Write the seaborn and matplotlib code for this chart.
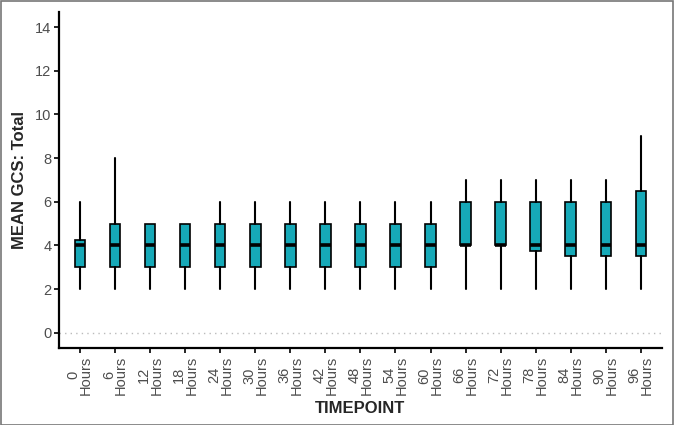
import numpy as np
import matplotlib
matplotlib.use("Agg")
from matplotlib import pyplot as plt
from matplotlib.patches import Rectangle
import seaborn as sns

sns.set_style('white')
plt.rcParams['font.family'] = ['Liberation Sans', 'DejaVu Sans']

# box stats
timepoints = [0, 6, 12, 18, 24, 30, 36, 42, 48, 54, 60, 66, 72, 78, 84, 90, 96]
whislo = [2, 2, 2, 2, 2, 2, 2, 2, 2, 2, 2, 2, 2, 2, 2, 2, 2]
q1 = [3, 3, 3, 3, 3, 3, 3, 3, 3, 3, 3, 4, 4, 3.75, 3.5, 3.5, 3.5]
med = [4, 4, 4, 4, 4, 4, 4, 4, 4, 4, 4, 4, 4, 4, 4, 4, 4]
q3 = [4.25, 5, 5, 5, 5, 5, 5, 5, 5, 5, 5, 6, 6, 6, 6, 6, 6.5]
whishi = [6, 8, 5, 5, 6, 6, 6, 6, 6, 6, 6, 7, 7, 7, 7, 7, 9]
tick_labels = [f"{t}\nHours" for t in timepoints]

stats = [dict(whislo=a, q1=b, med=c, q3=d, whishi=e, fliers=[])
         for a, b, c, d, e in zip(whislo, q1, med, q3, whishi)]

fig = plt.figure(figsize=(6.74, 4.25), dpi=100)
ax = fig.add_axes([0.0875, 0.181, 0.8945, 0.791])

ax.bxp(stats, positions=np.arange(len(stats)), widths=0.3, showcaps=False,
       patch_artist=True,
       boxprops=dict(facecolor='#16a9b8', edgecolor='black', linewidth=1.2),
       whiskerprops=dict(color='black', linewidth=1.5),
       medianprops=dict(color='black', linewidth=2.6))

ax.axhline(0, color='#bbbbbb', linestyle=(0, (1, 3)), linewidth=1, zorder=0)

ax.set_xlim(-0.6, len(stats) - 0.4)
ax.set_ylim(-0.7, 14.7)
ax.set_yticks([0, 2, 4, 6, 8, 10, 12, 14])
ax.set_xticks(np.arange(len(stats)))
ax.set_xticklabels(tick_labels, rotation=90, fontsize=10.5, color='#4d4d4d',
                   va='top', ha='center', linespacing=0.85)
ax.tick_params(axis='y', labelsize=10.5, labelcolor='#4d4d4d')
ax.tick_params(axis='both', direction='out', length=3.5, width=1.2,
               color='black', bottom=True, left=True, pad=2)

for side in ['top', 'right']:
    ax.spines[side].set_visible(False)
for side in ['left', 'bottom']:
    ax.spines[side].set_color('black')
    ax.spines[side].set_linewidth(1.6)

ax.set_xlabel('TIMEPOINT', fontsize=12, fontweight='bold', labelpad=4)
ax.set_ylabel('MEAN GCS: Total', fontsize=12, fontweight='bold', labelpad=6)

# grey frame around the figure
fig.patches.append(Rectangle((0.001, 0.001), 0.997, 0.997, transform=fig.transFigure,
                             fill=False, edgecolor='#777777', linewidth=1.2))

fig.savefig('out.png', dpi=100)
